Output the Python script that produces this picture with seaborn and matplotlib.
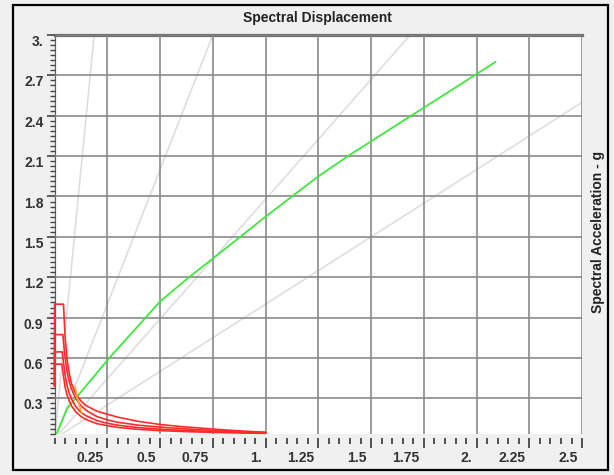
import matplotlib
matplotlib.use("Agg")
import matplotlib.pyplot as plt
import seaborn as sns
import pandas as pd
from matplotlib.transforms import ScaledTranslation
from matplotlib.ticker import MultipleLocator
from matplotlib.patches import Rectangle

# ---------------- data ----------------
title = "Spectral Displacement"
y_label = "Spectral Acceleration - g"

x_ticks = [0.25, 0.5, 0.75, 1.0, 1.25, 1.5, 1.75, 2.0, 2.25, 2.5]
x_tick_labels = ["0.25", "0.5", "0.75", "1.", "1.25", "1.5", "1.75", "2.", "2.25", "2.5"]
y_ticks = [0.3, 0.6, 0.9, 1.2, 1.5, 1.8, 2.1, 2.4, 2.7, 3.0]
y_tick_labels = ["0.3", "0.6", "0.9", "1.2", "1.5", "1.8", "2.1", "2.4", "2.7", "3."]

# capacity curve (green)
capacity_sd = [0.0, 0.06, 0.257, 0.5, 0.629, 0.743, 1.0, 1.25, 1.4, 1.55, 1.7, 1.97, 2.09]
capacity_sa = [0.0, 0.225, 0.596, 1.02, 1.19, 1.33, 1.65, 1.95, 2.11, 2.26, 2.41, 2.68, 2.80]

# demand spectra (red): start value, plateau, plateau end and shared tail
demand_names = ["A", "B", "C", "D"]
demand_start_sa = [0.39, 0.39, 0.39, 0.39]
demand_plateau_sa = [1.0, 0.774, 0.645, 0.554]
demand_corner_sd = [0.042, 0.039, 0.036, 0.034]
demand_tail_sd = [0.05, 0.06, 0.07, 0.08, 0.1, 0.125, 0.15, 0.2, 0.25, 0.3,
                  0.4, 0.5, 0.6, 0.7, 0.8, 0.9, 1.0]
demand_tail_sa_A = [0.75, 0.58, 0.48, 0.41, 0.335, 0.28, 0.245, 0.205, 0.182, 0.16,
                    0.128, 0.106, 0.09, 0.078, 0.066, 0.056, 0.048]
demand_tail_sa_B = [0.60, 0.49, 0.42, 0.37, 0.30, 0.245, 0.21, 0.165, 0.14, 0.122,
                    0.10, 0.086, 0.075, 0.066, 0.058, 0.051, 0.046]
demand_tail_sa_C = [0.47, 0.39, 0.335, 0.295, 0.24, 0.195, 0.17, 0.135, 0.115, 0.10,
                    0.082, 0.071, 0.062, 0.056, 0.051, 0.046, 0.043]
demand_tail_sa_D = [0.38, 0.32, 0.28, 0.245, 0.20, 0.165, 0.142, 0.112, 0.097, 0.084,
                    0.069, 0.060, 0.054, 0.049, 0.045, 0.042, 0.040]

# short orange segment (single demand spectrum)
orange_sd = [0.097, 0.108, 0.128]
orange_sa = [0.386, 0.30, 0.19]

# constant period lines (slopes, g per unit displacement)
period_line_slopes = [16.0, 4.0, 1.78, 1.0]

# ---------------- build tables ----------------
tails = [demand_tail_sa_A, demand_tail_sa_B, demand_tail_sa_C, demand_tail_sa_D]
rows = []
for name, s0, pl, c, tail in zip(demand_names, demand_start_sa, demand_plateau_sa,
                                 demand_corner_sd, tails):
    sds = [0.0, 0.0, c] + demand_tail_sd
    sas = [s0, pl, pl] + tail
    for i, (d, a) in enumerate(zip(sds, sas)):
        rows.append({"curve": name, "order": i, "sd": d, "sa": a})
demand_df = pd.DataFrame(rows)
cap_df = pd.DataFrame({"sd": capacity_sd, "sa": capacity_sa})
orange_df = pd.DataFrame({"sd": orange_sd, "sa": orange_sa})

# ---------------- figure ----------------
sns.set_theme(style="white")
plt.rcParams["font.family"] = ["Liberation Sans", "DejaVu Sans"]
plt.rcParams["font.weight"] = "bold"

W, H = 614, 475
fig = plt.figure(figsize=(W / 100, H / 100), dpi=100, facecolor="#f0f0f0")
ax = fig.add_axes([54.6 / W, (H - 434) / H, 527.5 / W, 399 / H])
ax.set_facecolor("white")
ax.set_xlim(0, 2.5)
ax.set_ylim(0.035, 3.0)

# period lines
for s in period_line_slopes:
    ax.axline((0, 0), slope=s, color="#dedede", lw=1.2, zorder=1)

# grid
ax.set_xticks(x_ticks, labels=x_tick_labels)
ax.set_yticks(y_ticks, labels=y_tick_labels)
ax.xaxis.set_minor_locator(MultipleLocator(0.05))
ax.yaxis.set_minor_locator(MultipleLocator(0.0375))
ax.grid(True, which="major", color="#858585", lw=1.15, zorder=1.5)
ax.set_axisbelow(False)

# curves
sns.lineplot(data=cap_df, x="sd", y="sa", sort=False, estimator=None,
             color="#3ee83e", lw=1.3, ax=ax, zorder=3)
sns.lineplot(data=demand_df, x="sd", y="sa", units="curve", sort=False,
             estimator=None, color="#ff2b2b", lw=1.2, ax=ax, zorder=3,
             clip_on=False)
sns.lineplot(data=orange_df, x="sd", y="sa", sort=False, estimator=None,
             color="#ffa726", lw=1.2, ax=ax, zorder=3.5)
ax.set_xlabel("")
ax.set_ylabel("")

# spines
ax.spines["right"].set_visible(False)
ax.spines["top"].set_color("#707070")
ax.spines["top"].set_linewidth(2.3)
ax.spines["left"].set_color("#606060")
ax.spines["left"].set_linewidth(0.9)
ax.spines["bottom"].set_position(("outward", 3))
ax.spines["bottom"].set_color("none")

# ticks
ax.tick_params(axis="x", which="major", direction="out", length=7.5, width=1.3,
               color="#444444", pad=2, labelsize=10, labelcolor="#333333",
               bottom=True, top=False)
ax.tick_params(axis="x", which="minor", direction="out", length=4.5, width=1.3,
               color="#444444", bottom=True, top=False)
ax.tick_params(axis="y", which="major", direction="out", length=6, width=1.2,
               color="#444444", pad=2, labelsize=10, labelcolor="#333333",
               left=True, right=False)
ax.tick_params(axis="y", which="minor", direction="out", length=3.5, width=1.0,
               color="#444444", left=True, right=False)

dx = ScaledTranslation(-3 / 72, 0, fig.dpi_scale_trans)
for lab in ax.get_xticklabels():
    lab.set_horizontalalignment("right")
    lab.set_transform(lab.get_transform() + dx)
    lab.set_fontweight("bold")
dy = ScaledTranslation(0, -4 / 72, fig.dpi_scale_trans)
for lab in ax.get_yticklabels():
    lab.set_transform(lab.get_transform() + dy)
    lab.set_fontweight("bold")

# title and right label
fig.text(317 / W, 1 - 18 / H, title, ha="center", va="center",
         fontsize=10, fontweight="bold", color="#222222")
fig.text(598 / W, 1 - 232 / H, y_label, ha="center", va="center",
         rotation=90, fontsize=10, fontweight="bold", color="#222222")

# outer frame
fig.patches.append(Rectangle((13 / W, 5 / H), (608 - 13) / W, (470 - 5) / H,
                             transform=fig.transFigure, fill=False,
                             edgecolor="black", lw=1.6, zorder=10))

fig.savefig("out.png", dpi=100, facecolor=fig.get_facecolor())
